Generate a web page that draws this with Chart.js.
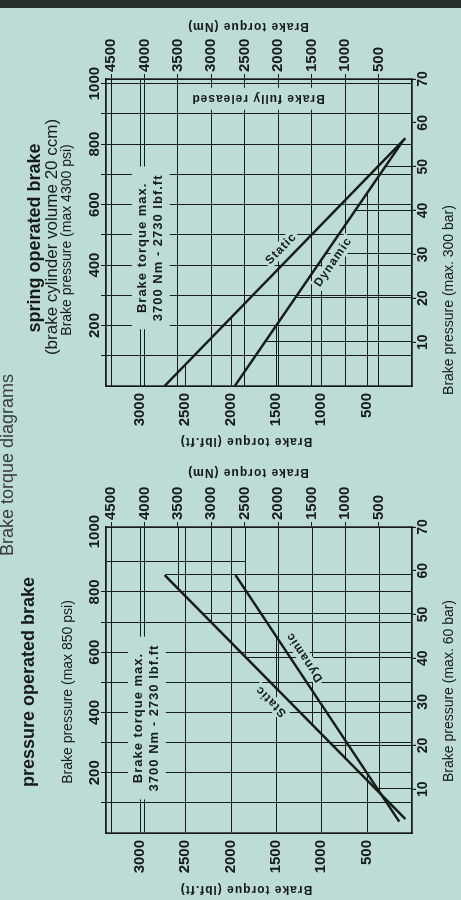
<!DOCTYPE html>
<html>
<head>
<meta charset="utf-8">
<script src="https://cdn.jsdelivr.net/npm/chart.js@4.4.1/dist/chart.umd.min.js"></script>
<style>
html,body{margin:0;padding:0;width:461px;height:900px;overflow:hidden;background:#bddcd6;}
#page{position:absolute;left:0;top:0;width:900px;height:461px;transform-origin:0 0;transform:translateY(900px) rotate(-90deg);background:#bddcd6;overflow:hidden;}
.pane{position:absolute;top:0;width:450px;height:461px;}
#paneA{left:0;}
#paneB{left:450px;}
#head{position:absolute;left:0;top:-2px;width:870px;text-align:center;font:18px/18px "Liberation Sans",Arial,sans-serif;color:#3a3d3c;white-space:nowrap;}
#band{position:absolute;right:0;top:0;width:8px;height:461px;background:#25302d;}
</style>
</head>
<body>
<div id="page">
  <div class="pane" id="paneA"><canvas id="chartA" width="450" height="461"></canvas></div>
  <div class="pane" id="paneB"><canvas id="chartB" width="450" height="461"></canvas></div>
  <div id="head">Brake torque diagrams</div>
  <div id="band"></div>
</div>
<script>
// ---------- data ----------
const barTicks = [10, 20, 30, 40, 50, 60, 70];
const psiTicks = [100, 200, 300, 400, 500, 600, 700, 800, 900, 1000];
const psiLabels = [200, 400, 600, 800, 1000];
const nmTicks = [500, 1000, 1500, 2000, 2500, 3000, 3500, 4000, 4500];
const lbfTicks = [500, 1000, 1500, 2000, 2500, 3000];

// pressure operated brake (bar -> Nm)
const pressStaticBar = [3.2, 59];
const pressStaticNm = [100, 3700];
const pressDynamicBar = [2.6, 59];
const pressDynamicNm = [190, 2640];

// spring operated brake (bar -> Nm)
const springStaticBar = [0, 56.5];
const springStaticNm = [3700, 100];
const springDynamicBar = [0, 56];
const springDynamicNm = [2650, 130];

// ---------- constants ----------
const DARK = '#171b1a';
const BG = '#bddcd6';
const FONT = '"Liberation Sans", Arial, sans-serif';
const PSI_PER_BAR = 14.5038;
const NM_PER_LBF = 1.35582;
const BAR_MAX = 70;
const NM_MAX = 4575;

function pts(xs, ys) { return xs.map((x, i) => ({ x: x, y: ys[i] })); }
function barAt(xs, ys, nm) {
  const x0 = xs[0], x1 = xs[xs.length - 1], y0 = ys[0], y1 = ys[ys.length - 1];
  return x0 + (nm - y0) * (x1 - x0) / (y1 - y0);
}
function nmAt(xs, ys, bar) {
  const x0 = xs[0], x1 = xs[xs.length - 1], y0 = ys[0], y1 = ys[ys.length - 1];
  return y0 + (bar - x0) * (y1 - y0) / (x1 - x0);
}

// reading (construction) lines of the pressure operated diagram
function pressureReadingLines() {
  const segs = [];
  const sMax = Math.max.apply(null, pressStaticNm);
  const dMax = Math.max.apply(null, pressDynamicNm);
  nmTicks.forEach(v => {
    segs.push(v >= sMax ? [0, v, BAR_MAX, v] : [barAt(pressStaticBar, pressStaticNm, v), v, BAR_MAX, v]);
  });
  lbfTicks.forEach(l => {
    const v = l * NM_PER_LBF;
    segs.push(v >= dMax ? [0, v, BAR_MAX, v] : [0, v, barAt(pressDynamicBar, pressDynamicNm, v), v]);
  });
  [10, 20, 30, 40, 50].forEach(b => segs.push([b, 0, b, nmAt(pressStaticBar, pressStaticNm, b)]));
  const top = pressStaticBar[pressStaticBar.length - 1];
  segs.push([top, 0, top, pressStaticNm[pressStaticNm.length - 1]]);
  segs.push([900 / PSI_PER_BAR, NM_MAX, 900 / PSI_PER_BAR, 2500]);
  return segs;
}
// reading lines of the spring operated diagram
function springReadingLines() {
  const segs = [];
  lbfTicks.forEach(l => {
    const v = l * NM_PER_LBF;
    if (v >= springStaticNm[0]) segs.push([0, v, BAR_MAX, v]);
    else if (l >= 2000) segs.push([0, v, barAt(springStaticBar, springStaticNm, v), v]);
    else segs.push([0, v, barAt(springDynamicBar, springDynamicNm, v), v]);
  });
  [10, 20, 30, 40, 50].forEach(b => segs.push([b, 0, b, nmAt(springDynamicBar, springDynamicNm, b)]));
  return segs;
}

function setSpacing(ctx, s) { try { ctx.letterSpacing = s; } catch (e) {} }

function textBox(ctx, lines, cx, cy, rot, font, spacing, lineH, padX, padY) {
  ctx.save();
  ctx.translate(cx, cy);
  ctx.rotate(rot || 0);
  ctx.font = font;
  setSpacing(ctx, spacing || '0px');
  const w = Math.max.apply(null, lines.map(l => ctx.measureText(l).width));
  const h = lineH * lines.length;
  ctx.fillStyle = BG;
  ctx.fillRect(-w / 2 - padX, -h / 2 - padY, w + 2 * padX, h + 2 * padY);
  ctx.fillStyle = DARK;
  ctx.textAlign = 'center';
  ctx.textBaseline = 'middle';
  lines.forEach((l, i) => ctx.fillText(l, 0, -h / 2 + lineH * (i + 0.5)));
  ctx.restore();
}

const annotPlugin = {
  id: 'annot',
  beforeDatasetsDraw(chart, args, o) {
    const ctx = chart.ctx, xs = chart.scales.x, ys = chart.scales.yR;
    ctx.save();
    ctx.strokeStyle = DARK;
    ctx.lineWidth = 1;
    (o.reading ? o.reading() : []).forEach(s => {
      ctx.beginPath();
      ctx.moveTo(Math.round(xs.getPixelForValue(s[0])) + 0.5, Math.round(ys.getPixelForValue(s[1])) + 0.5);
      ctx.lineTo(Math.round(xs.getPixelForValue(s[2])) + 0.5, Math.round(ys.getPixelForValue(s[3])) + 0.5);
      ctx.stroke();
    });
    ctx.restore();
    (o.boxes || []).forEach(b => {
      textBox(ctx, b.lines, xs.getPixelForValue(b.bar), ys.getPixelForValue(b.nm), b.rot,
              b.font, b.spacing, b.lineH, b.padX, b.padY);
    });
  },
  afterDatasetsDraw(chart, args, o) {
    const ctx = chart.ctx;
    (o.lineLabels || []).forEach(L => {
      const meta = chart.getDatasetMeta(L.ds);
      const p0 = meta.data[0], p1 = meta.data[meta.data.length - 1];
      let a = Math.atan2(p1.y - p0.y, p1.x - p0.x);
      if (a > Math.PI / 2) a -= Math.PI;
      if (a < -Math.PI / 2) a += Math.PI;
      const px = p0.x + L.t * (p1.x - p0.x), py = p0.y + L.t * (p1.y - p0.y);
      const s = L.side === 'above' ? 1 : -1;
      textBox(ctx, [L.text], px + s * L.off * Math.sin(a), py - s * L.off * Math.cos(a), a,
              'bold 12px ' + FONT, '1px', 14, 2, 0);
    });
  },
  afterDraw(chart, args, o) {
    const ctx = chart.ctx;
    ctx.save();
    ctx.fillStyle = DARK;
    ctx.textAlign = 'center';
    ctx.textBaseline = 'middle';
    (o.titles || []).forEach(t => {
      ctx.save();
      ctx.translate(t.x, t.y);
      ctx.rotate(t.rot || 0);
      ctx.font = t.font;
      setSpacing(ctx, t.spacing || '0px');
      ctx.fillText(t.text, 0, 0);
      ctx.restore();
    });
    ctx.restore();
  }
};

function makeChart(id, g) {
  const tickFont = { family: FONT, size: 15, weight: 'bold', lineHeight: 1 };
  const barFont = { family: FONT, size: 14, weight: 'bold', lineHeight: 1 };
  const setTicks = arr => (s => { s.ticks = arr.map(v => ({ value: v })); });
  const plain = v => String(v);
  return new Chart(document.getElementById(id), {
    type: 'line',
    data: {
      datasets: [
        { label: 'Static', data: pts(g.staticBar, g.staticNm), xAxisID: 'x', yAxisID: 'yR',
          borderColor: DARK, borderWidth: 2.5, pointRadius: 0, fill: false, tension: 0, borderCapStyle: 'butt' },
        { label: 'Dynamic', data: pts(g.dynamicBar, g.dynamicNm), xAxisID: 'x', yAxisID: 'yR',
          borderColor: DARK, borderWidth: 2.5, pointRadius: 0, fill: false, tension: 0, borderCapStyle: 'butt' }
      ]
    },
    options: {
      responsive: false,
      animation: false,
      events: [],
      layout: { padding: 0 },
      plugins: { legend: { display: false }, tooltip: { enabled: false }, annot: g.annot },
      scales: {
        x: {
          type: 'linear', position: 'bottom', min: 0, max: BAR_MAX,
          afterBuildTicks: setTicks(barTicks),
          afterFit(s) { s.height = 461 - g.bottom; },
          ticks: { autoSkip: false, maxRotation: 0, padding: 0, color: DARK, font: barFont, callback: plain },
          grid: { drawOnChartArea: false, tickLength: 4, color: DARK, lineWidth: 1.2 },
          border: { display: true, color: DARK, width: 1.7 }
        },
        x2: {
          type: 'linear', position: 'top', min: 0, max: BAR_MAX * PSI_PER_BAR,
          afterBuildTicks: setTicks(psiTicks),
          afterFit(s) { s.height = g.top; },
          ticks: { autoSkip: false, maxRotation: 0, padding: -1, color: DARK, font: tickFont,
                   callback: v => psiLabels.includes(v) ? String(v) : '' },
          grid: { drawOnChartArea: true, tickLength: 5, lineWidth: 1,
                  color: c => (c.tick && g.psiSkip.includes(c.tick.value)) ? 'rgba(0,0,0,0)' : DARK },
          border: { display: true, color: DARK, width: 1.7 }
        },
        yR: {
          type: 'linear', position: 'right', min: 0, max: NM_MAX,
          afterBuildTicks: setTicks(nmTicks),
          afterFit(s) { s.width = 450 - g.right; },
          ticks: { autoSkip: false, padding: 2, color: DARK, font: tickFont, callback: plain },
          grid: { drawOnChartArea: g.nmFullGrid, tickLength: 5, color: DARK, lineWidth: 1 },
          border: { display: true, color: DARK, width: 1.7 }
        },
        yL: {
          type: 'linear', position: 'left', min: 0, max: NM_MAX / NM_PER_LBF,
          afterBuildTicks: setTicks(lbfTicks),
          afterFit(s) { s.width = g.left; },
          ticks: { autoSkip: false, padding: 7, color: DARK, font: tickFont, callback: plain },
          grid: { drawOnChartArea: false, drawTicks: false, color: DARK },
          border: { display: true, color: DARK, width: 1.7 }
        }
      }
    },
    plugins: [annotPlugin]
  });
}

const boxFont = 'bold 13px ' + FONT;
const axisTitleFont = 'bold 12px ' + FONT;
const pressTitleFont = '14px ' + FONT;

makeChart('chartA', {
  left: 67, right: 373, top: 106, bottom: 412, psiSkip: [900, 1000], nmFullGrid: false,
  staticBar: pressStaticBar, staticNm: pressStaticNm,
  dynamicBar: pressDynamicBar, dynamicNm: pressDynamicNm,
  annot: {
    reading: pressureReadingLines,
    titles: [
      { text: 'pressure operated brake', font: 'bold 18px ' + FONT, x: 218, y: 29 },
      { text: 'Brake pressure (max 850 psi)', font: pressTitleFont, x: 208, y: 68.5 },
      { text: 'Brake pressure (max. 60 bar)', font: pressTitleFont, x: 209, y: 449 },
      { text: 'Brake torque (lbf.ft)', font: axisTitleFont, spacing: '1px', x: 11, y: 246, rot: -Math.PI / 2 },
      { text: 'Brake torque (Nm)', font: axisTitleFont, spacing: '1px', x: 428, y: 248, rot: -Math.PI / 2 }
    ],
    boxes: [ { lines: ['Brake torque max.', '3700 Nm - 2730 lbf.ft'], bar: 26.3, nm: 3964,
               font: boxFont, spacing: '1px', lineH: 16, padX: 8, padY: 3 } ],
    lineLabels: [ { ds: 0, text: 'Static', t: 0.52, off: 13, side: 'above' },
                  { ds: 1, text: 'Dynamic', t: 0.64, off: 12, side: 'below' } ]
  }
});

makeChart('chartB', {
  left: 64, right: 371, top: 106, bottom: 412, psiSkip: [], nmFullGrid: true,
  staticBar: springStaticBar, staticNm: springStaticNm,
  dynamicBar: springDynamicBar, dynamicNm: springDynamicNm,
  annot: {
    reading: springReadingLines,
    titles: [
      { text: 'spring operated brake', font: 'bold 18px ' + FONT, x: 212, y: 35 },
      { text: '(brake cylinder volume 20 ccm)', font: '17px ' + FONT, x: 213, y: 52.5 },
      { text: 'Brake pressure (max 4300 psi)', font: pressTitleFont, x: 210, y: 67 },
      { text: 'Brake pressure (max. 300 bar)', font: pressTitleFont, x: 150, y: 449 },
      { text: 'Brake torque (lbf.ft)', font: axisTitleFont, spacing: '1px', x: 9, y: 246, rot: -Math.PI / 2 },
      { text: 'Brake torque (Nm)', font: axisTitleFont, spacing: '1px', x: 424, y: 248, rot: -Math.PI / 2 }
    ],
    boxes: [ { lines: ['Brake torque max.', '3700 Nm - 2730 lbf.ft'], bar: 31.5, nm: 3905,
               font: boxFont, spacing: '1px', lineH: 16, padX: 8, padY: 3 },
             { lines: ['Brake fully released'], bar: 65.5, nm: 2302, rot: -Math.PI / 2,
               font: 'bold 12px ' + FONT, spacing: '1px', lineH: 14, padX: 3, padY: 4 } ],
    lineLabels: [ { ds: 0, text: 'Static', t: 0.52, off: 12, side: 'above' },
                  { ds: 1, text: 'Dynamic', t: 0.53, off: 11, side: 'below' } ]
  }
});
</script>
</body>
</html>
